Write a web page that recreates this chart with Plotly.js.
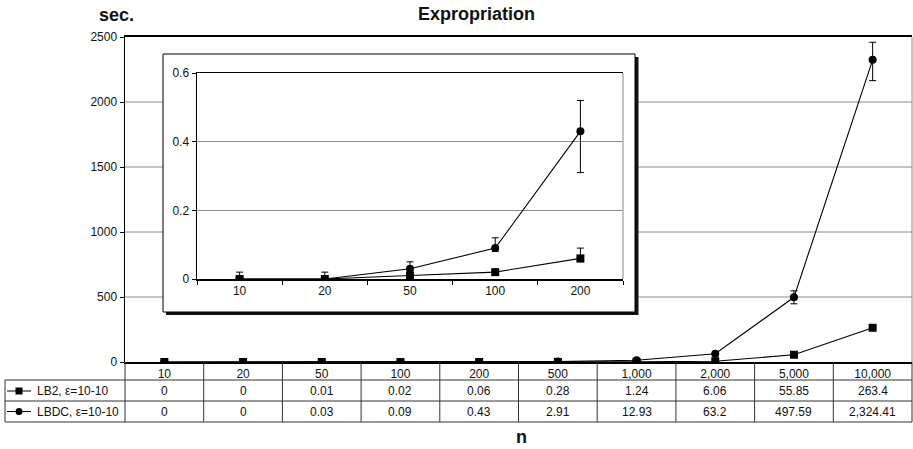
<!DOCTYPE html>
<html>
<head>
<meta charset="utf-8">
<script src="https://cdn.plot.ly/plotly-3.0.1.min.js"></script>
<style>html,body{margin:0;padding:0;background:#fff;}#chart{width:913px;height:449px;}</style>
</head>
<body>
<div id="chart"></div>
<script>
// ---------- data ----------
const nLabels = ['10','20','50','100','200','500','1,000','2,000','5,000','10,000'];
const lb2 = [0, 0, 0.01, 0.02, 0.06, 0.28, 1.24, 6.06, 55.85, 263.4];
const lbdc = [0, 0, 0.03, 0.09, 0.43, 2.91, 12.93, 63.2, 497.59, 2324.41];
const lb2ErrPlus  = [0, 0, 0, 0, 0.03, 0, 0, 0, 0, 0];
const lb2ErrMinus = [0, 0, 0, 0, 0.01, 0, 0, 0, 0, 0];
const lbdcErrPlus  = [0.02, 0.02, 0.02, 0.03, 0.09, 0, 0, 0, 50, 135];
const lbdcErrMinus = [0, 0, 0.01, 0.01, 0.12, 0, 0, 0, 50, 160];
const seriesNames = ['LB2, \u03b5=10-10', 'LBDC, \u03b5=10-10'];
const yTicks = [0, 500, 1000, 1500, 2000, 2500];
const gridVals = [500, 1000, 1500, 2000];
const insetYTicks = [0, 0.2, 0.4, 0.6];
const insetCount = 5;

// ---------- layout geometry (pixels) ----------
const W = 913, H = 449;
const L = 125, R = 912, T = 37, B = 362;
const PW = R - L, PH = B - T;
const px = p => (p - L) / PW;          // pixel x -> paper x
const py = p => (B - p) / PH;          // pixel y -> paper y
const FONT = 'Liberation Sans, Arial, Helvetica, sans-serif';
const MS = 8;

function fmt(v) {
  const parts = String(v).split('.');
  parts[0] = parts[0].replace(/\B(?=(\d{3})+(?!\d))/g, ',');
  return parts.join('.');
}

const insetCats = nLabels.slice(0, insetCount);

const traces = [
  {
    x: nLabels, y: lbdc, name: seriesNames[1], type: 'scatter', mode: 'lines+markers',
    line: {color: '#000', width: 1.1}, marker: {symbol: 'circle', size: MS, color: '#000'},
    error_y: {type: 'data', symmetric: false, array: lbdcErrPlus, arrayminus: lbdcErrMinus, color: '#000', thickness: 1, width: 3.5},
    xaxis: 'x', yaxis: 'y', showlegend: false, hoverinfo: 'skip'
  },
  {
    x: nLabels, y: lb2, name: seriesNames[0], type: 'scatter', mode: 'lines+markers',
    line: {color: '#000', width: 1.1}, marker: {symbol: 'square', size: MS, color: '#000'},
    error_y: {type: 'data', symmetric: false, array: lb2ErrPlus, arrayminus: lb2ErrMinus, color: '#000', thickness: 1, width: 3.5},
    xaxis: 'x', yaxis: 'y', showlegend: false, hoverinfo: 'skip'
  },
  {
    x: insetCats, y: lbdc.slice(0, insetCount), name: seriesNames[1], type: 'scatter', mode: 'lines+markers',
    line: {color: '#000', width: 1.1}, marker: {symbol: 'circle', size: MS, color: '#000'},
    error_y: {type: 'data', symmetric: false, array: lbdcErrPlus.slice(0, insetCount), arrayminus: lbdcErrMinus.slice(0, insetCount), color: '#000', thickness: 1, width: 3.5},
    xaxis: 'x2', yaxis: 'y2', showlegend: false, hoverinfo: 'skip'
  },
  {
    x: insetCats, y: lb2.slice(0, insetCount), name: seriesNames[0], type: 'scatter', mode: 'lines+markers',
    line: {color: '#000', width: 1.1}, marker: {symbol: 'square', size: MS, color: '#000'},
    error_y: {type: 'data', symmetric: false, array: lb2ErrPlus.slice(0, insetCount), arrayminus: lb2ErrMinus.slice(0, insetCount), color: '#000', thickness: 1, width: 3.5},
    xaxis: 'x2', yaxis: 'y2', showlegend: false, hoverinfo: 'skip'
  }
];

const shapes = [];
// main gridlines, interrupted by the inset box
gridVals.forEach(v => {
  shapes.push({type: 'line', xref: 'paper', yref: 'y', x0: 0, x1: px(163), y0: v, y1: v, line: {color: '#8a8a8a', width: 1}, layer: 'below'});
  shapes.push({type: 'line', xref: 'paper', yref: 'y', x0: px(638), x1: 1, y0: v, y1: v, line: {color: '#8a8a8a', width: 1}, layer: 'below'});
});
// main right border
shapes.push({type: 'line', xref: 'paper', yref: 'paper', x0: 1, x1: 1, y0: 0, y1: 1, line: {color: '#8a8a8a', width: 1}, layer: 'below'});
// inset shadow and box
shapes.push({type: 'rect', xref: 'paper', yref: 'paper', x0: px(166), x1: px(638.5), y0: py(315), y1: py(57), fillcolor: '#111', line: {width: 0}, layer: 'below'});
shapes.push({type: 'rect', xref: 'paper', yref: 'paper', x0: px(163), x1: px(635), y0: py(312), y1: py(54), fillcolor: '#fff', line: {color: '#000', width: 1}, layer: 'below'});
// inset right border (gray)
shapes.push({type: 'line', xref: 'x2 domain', yref: 'y2 domain', x0: 1, x1: 1, y0: 0, y1: 1, line: {color: '#8a8a8a', width: 1}, layer: 'above'});

// data table grid
const tblLine = {color: '#333', width: 1};
[380, 401, 422].forEach(yy => {
  shapes.push({type: 'line', xref: 'paper', yref: 'paper', x0: px(5), x1: 1, y0: py(yy), y1: py(yy), line: tblLine, layer: 'above'});
});
shapes.push({type: 'line', xref: 'paper', yref: 'paper', x0: px(5), x1: px(5), y0: py(380), y1: py(422), line: tblLine, layer: 'above'});
shapes.push({type: 'line', xref: 'paper', yref: 'paper', x0: 0, x1: 0, y0: 0, y1: py(422), line: tblLine, layer: 'above'});
shapes.push({type: 'line', xref: 'paper', yref: 'paper', x0: 1, x1: 1, y0: 0, y1: py(422), line: tblLine, layer: 'above'});
for (let i = 1; i < nLabels.length; i++) {
  shapes.push({type: 'line', xref: 'x', yref: 'paper', x0: i - 0.5, x1: i - 0.5, y0: 0, y1: py(422), line: tblLine, layer: 'above'});
}
// row legend keys
const rowY = [391, 411.5];
rowY.forEach((yy, k) => {
  shapes.push({type: 'line', xref: 'paper', yref: 'paper', x0: px(7), x1: px(31), y0: py(yy), y1: py(yy), line: {color: '#000', width: 1}, layer: 'above'});
  shapes.push({type: k === 0 ? 'rect' : 'circle', xref: 'paper', yref: 'paper', x0: px(15.5), x1: px(22.5), y0: py(yy + 3.5), y1: py(yy - 3.5), fillcolor: '#000', line: {width: 0}, layer: 'above'});
});

const annotations = [];
const rowSeries = [lb2, lbdc];
rowSeries.forEach((arr, k) => {
  annotations.push({xref: 'paper', yref: 'paper', x: px(35), y: py(rowY[k]), xanchor: 'left', yanchor: 'middle', text: seriesNames[k], showarrow: false, font: {family: FONT, size: 12, color: '#111'}});
  arr.forEach((v, i) => {
    annotations.push({xref: 'x', yref: 'paper', x: i, y: py(rowY[k]), xanchor: 'center', yanchor: 'middle', text: fmt(v), showarrow: false, font: {family: FONT, size: 12, color: '#111'}});
  });
});
annotations.push({xref: 'paper', yref: 'paper', x: px(116.5), y: py(15), xanchor: 'center', yanchor: 'middle', text: '<b>sec.</b>', showarrow: false, font: {family: FONT, size: 18, color: '#111'}});
annotations.push({xref: 'paper', yref: 'paper', x: px(521), y: py(437), xanchor: 'center', yanchor: 'middle', text: '<b>n</b>', showarrow: false, font: {family: FONT, size: 18, color: '#111'}});

const layout = {
  width: W, height: H,
  margin: {l: L, r: W - R, t: T, b: H - B, pad: 0},
  paper_bgcolor: '#fff', plot_bgcolor: 'rgba(0,0,0,0)',
  font: {family: FONT, size: 12, color: '#111'},
  title: {text: '<b>Expropriation</b>', xref: 'paper', x: px(476.5), xanchor: 'center', yref: 'container', y: 1 - 14 / H, yanchor: 'middle', font: {family: FONT, size: 18, color: '#111'}},
  showlegend: false,
  xaxis: {
    type: 'category', categoryorder: 'array', categoryarray: nLabels, range: [-0.5, nLabels.length - 0.5],
    domain: [0, 1], anchor: 'y', showgrid: false, zeroline: false,
    showline: true, linecolor: '#000', linewidth: 2, mirror: true,
    ticks: '', tickfont: {family: FONT, size: 12, color: '#111'}, ticklabelstandoff: 0
  },
  yaxis: {
    range: [0, 2500], tickvals: yTicks, tickformat: 'd', domain: [0, 1], anchor: 'x',
    showgrid: false, zeroline: false, showline: true, linecolor: '#000', linewidth: 1.5,
    ticks: 'outside', ticklen: 4, tickcolor: '#000', tickwidth: 1,
    tickfont: {family: FONT, size: 12, color: '#111'}
  },
  xaxis2: {
    type: 'category', categoryorder: 'array', categoryarray: insetCats, range: [-0.5, insetCount - 0.5],
    domain: [px(197), px(623)], anchor: 'y2', showgrid: false, zeroline: false,
    showline: true, linecolor: '#000', linewidth: 1.5, mirror: true,
    ticks: 'outside', tickson: 'boundaries', ticklen: 4, tickcolor: '#000', tickwidth: 1,
    tickfont: {family: FONT, size: 12, color: '#111'}
  },
  yaxis2: {
    range: [0, 0.6], tickvals: insetYTicks, ticktext: insetYTicks.map(String), domain: [py(279), py(73)], anchor: 'x2',
    showgrid: true, gridcolor: '#8a8a8a', gridwidth: 1, zeroline: false,
    showline: true, linecolor: '#000', linewidth: 1.5,
    ticks: 'outside', ticklen: 4, tickcolor: '#000', tickwidth: 1,
    tickfont: {family: FONT, size: 12, color: '#111'}
  },
  shapes: shapes,
  annotations: annotations
};

Plotly.newPlot('chart', traces, layout, {staticPlot: true, displayModeBar: false});
</script>
</body>
</html>
